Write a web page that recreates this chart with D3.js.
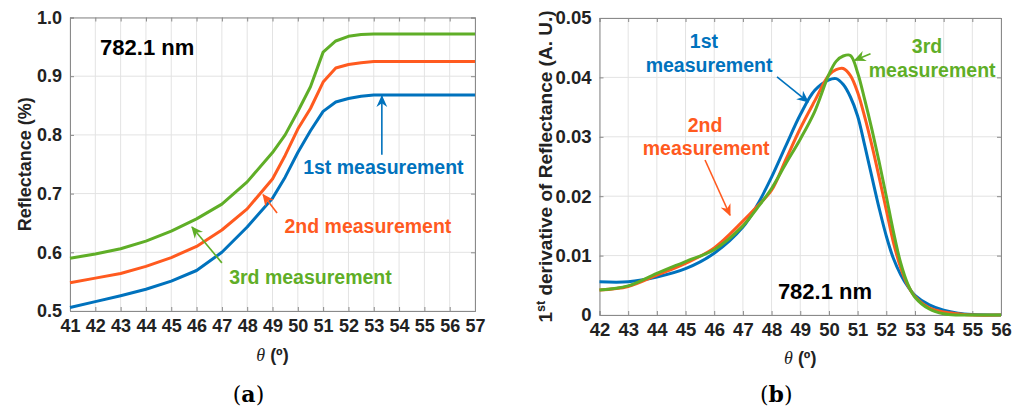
<!DOCTYPE html>
<html>
<head>
<meta charset="utf-8">
<script src="https://cdn.jsdelivr.net/npm/d3@7"></script>
<style>
  body { margin: 0; background: #fff; }
  svg { display: block; }
</style>
</head>
<body>
<div id="chart"></div>
<script>
// panel (a): reflectance vs angle
const angA = [41, 42, 43, 44, 45, 46, 47, 48, 49, 49.5, 50, 50.5, 51, 51.5, 52, 52.5, 53, 54, 55, 56, 57];
const refl1 = [0.506, 0.516, 0.526, 0.537, 0.551, 0.569, 0.600, 0.643, 0.692, 0.728, 0.770, 0.807, 0.840, 0.856, 0.862, 0.866, 0.868, 0.868, 0.868, 0.868, 0.868];
const refl2 = [0.548, 0.556, 0.564, 0.576, 0.591, 0.610, 0.638, 0.674, 0.725, 0.765, 0.810, 0.845, 0.890, 0.914, 0.920, 0.923, 0.925, 0.925, 0.925, 0.925, 0.925];
const refl3 = [0.590, 0.597, 0.606, 0.619, 0.636, 0.657, 0.682, 0.720, 0.770, 0.800, 0.840, 0.882, 0.941, 0.960, 0.968, 0.971, 0.972, 0.972, 0.972, 0.972, 0.972];
const ticksA_x = d3.range(41, 58);
const ticksA_y = [0.5, 0.6, 0.7, 0.8, 0.9, 1.0];

// panel (b): first derivative
const angB = [42, 43, 44, 45, 46, 47, 47.5, 48, 48.5, 49, 49.5, 50, 50.25, 50.5, 50.75, 51, 51.25, 51.5, 51.75, 52, 52.25, 52.5, 52.75, 53, 53.5, 54, 54.5, 55, 56];
const der1 = [0.0056, 0.0056, 0.0064, 0.0078, 0.0104, 0.0148, 0.0185, 0.0232, 0.0285, 0.0337, 0.0378, 0.0396, 0.0398, 0.0388, 0.0367, 0.0335, 0.0285, 0.0232, 0.0180, 0.0133, 0.0095, 0.0068, 0.0048, 0.0033, 0.0017, 0.0008, 0.0003, 0.0001, 0];
const der2 = [0.0042, 0.0048, 0.0067, 0.0087, 0.0113, 0.0158, 0.0183, 0.0210, 0.0262, 0.0314, 0.0360, 0.0404, 0.0413, 0.0415, 0.0403, 0.0375, 0.0333, 0.0285, 0.0232, 0.0177, 0.0122, 0.0080, 0.0050, 0.0031, 0.0012, 0.0005, 0.0002, 0, 0];
const der3 = [0.0042, 0.0049, 0.0070, 0.0090, 0.0110, 0.0150, 0.0180, 0.0213, 0.0255, 0.0296, 0.0342, 0.0405, 0.0427, 0.0436, 0.0437, 0.0408, 0.0362, 0.0312, 0.0258, 0.0200, 0.0140, 0.0088, 0.0052, 0.0030, 0.0010, 0.0002, 0, 0, 0];
const ticksB_x = d3.range(42, 57);
const ticksB_y = [0, 0.01, 0.02, 0.03, 0.04, 0.05];

const colors = ["#0072BD", "#FF5A1F", "#5FAE27"];
const sans = "'Liberation Sans', Arial, sans-serif";

const W = 1021, H = 407;
const svg = d3.select("#chart").append("svg").attr("width", W).attr("height", H);
svg.append("rect").attr("width", W).attr("height", H).attr("fill", "#fff");

const defs = svg.append("defs");
colors.forEach((c, i) => {
    defs.append("marker")
        .attr("id", "head" + i)
        .attr("viewBox", "0 0 10 10")
        .attr("refX", 9).attr("refY", 5)
        .attr("markerWidth", 7.5).attr("markerHeight", 7.5)
        .attr("markerUnits", "strokeWidth")
        .attr("orient", "auto")
        .append("path")
        .attr("d", "M0,0.5 L10,5 L0,9.5 L3,5 Z")
        .attr("fill", c);
});

function drawPanel(o) {
    const x = d3.scaleLinear().domain(o.xDomain).range([o.left, o.right]);
    const y = d3.scaleLinear().domain(o.yDomain).range([o.bottom, o.top]);
    const g = svg.append("g");

    // grid
    g.selectAll(".gx").data(o.xTicks).join("line")
        .attr("x1", d => x(d)).attr("x2", d => x(d))
        .attr("y1", o.top).attr("y2", o.bottom)
        .attr("stroke", "#e3e3e3").attr("stroke-width", 1);
    g.selectAll(".gy").data(o.yTicks).join("line")
        .attr("x1", o.left).attr("x2", o.right)
        .attr("y1", d => y(d)).attr("y2", d => y(d))
        .attr("stroke", "#e3e3e3").attr("stroke-width", 1);

    // axes (matlab box, ticks inside)
    const bottomAxis = d3.axisBottom(x).tickValues(o.xTicks).tickSize(-4).tickFormat(d3.format("d")).tickPadding(8);
    const leftAxis = d3.axisLeft(y).tickValues(o.yTicks).tickSize(-4).tickFormat(o.yFmt).tickPadding(8);
    const topAxis = d3.axisTop(x).tickValues(o.xTicks).tickSize(-4).tickFormat("");
    const rightAxis = d3.axisRight(y).tickValues(o.yTicks).tickSize(-4).tickFormat("");

    const ax = [
        g.append("g").attr("transform", `translate(0,${o.bottom})`).call(bottomAxis),
        g.append("g").attr("transform", `translate(${o.left},0)`).call(leftAxis),
        g.append("g").attr("transform", `translate(0,${o.top})`).call(topAxis),
        g.append("g").attr("transform", `translate(${o.right},0)`).call(rightAxis)
    ];
    ax.forEach(a => {
        a.attr("font-size", null).attr("font-family", null);
        a.select(".domain").attr("stroke", "#8a8a8a");
        a.selectAll(".tick line").attr("stroke", "#8a8a8a");
        a.selectAll(".tick text")
            .style("font-family", sans).style("font-weight", "bold")
            .style("font-size", o.tickSize + "px").style("fill", "#222");
    });

    // curves
    const line = d3.line().x(d => x(d[0])).y(d => y(d[1])).curve(o.curve);
    o.series.forEach((s, i) => {
        g.append("path")
            .datum(o.xs.map((v, j) => [v, s[j]]))
            .attr("d", line)
            .attr("fill", "none")
            .attr("stroke", colors[i])
            .attr("stroke-width", 3)
            .attr("stroke-linejoin", "round");
    });

    // arrows
    o.arrows.forEach(a => {
        g.append("line")
            .attr("x1", x(a.from[0])).attr("y1", y(a.from[1]))
            .attr("x2", x(a.to[0])).attr("y2", y(a.to[1]))
            .attr("stroke", colors[a.c]).attr("stroke-width", 1.6)
            .attr("marker-end", `url(#head${a.c})`);
    });

    // annotation texts
    o.labels.forEach(l => {
        g.append("text")
            .attr("x", x(l.at[0])).attr("y", y(l.at[1]))
            .attr("text-anchor", l.anchor || "middle")
            .style("font-family", sans).style("font-weight", "bold")
            .style("font-size", l.size + "px")
            .attr("fill", l.c === undefined ? "#000" : colors[l.c])
            .text(l.text);
    });

    // x label: theta (º)
    const xl = g.append("text")
        .attr("x", (o.left + o.right) / 2).attr("y", o.xLabelY)
        .attr("text-anchor", "middle")
        .style("font-size", "18px").attr("fill", "#222");
    xl.append("tspan").style("font-family", "'Liberation Serif', 'Times New Roman', serif").style("font-style", "italic").text("θ");
    xl.append("tspan").style("font-family", sans).style("font-weight", "bold").text(" (º)");

    // panel letter
    const pl = g.append("text")
        .attr("x", (o.left + o.right) / 2 - 24).attr("y", 402)
        .attr("text-anchor", "middle")
        .style("font-family", "'DejaVu Serif', 'Liberation Serif', serif")
        .style("font-size", "22px").attr("fill", "#000");
    pl.append("tspan").text("(");
    pl.append("tspan").style("font-weight", "bold").text(o.letter);
    pl.append("tspan").text(")");
    return { x, y, g };
}

// ---- panel (a)
drawPanel({
    left: 70, right: 475, top: 17.5, bottom: 311,
    xDomain: [41, 57], yDomain: [0.5, 1.0],
    xTicks: ticksA_x, yTicks: ticksA_y, yFmt: d3.format(".1f"),
    tickSize: 18, xLabelY: 361, letter: "a",
    xs: angA, series: [refl1, refl2, refl3], curve: d3.curveLinear,
    arrows: [
        { c: 0, from: [53.32, 0.766], to: [53.32, 0.866] },
        { c: 1, from: [49.18, 0.667], to: [48.63, 0.698] },
        { c: 2, from: [47.0, 0.582], to: [45.82, 0.643] }
    ],
    labels: [
        { text: "782.1 nm", at: [42.19, 0.936], anchor: "start", size: 22 },
        { text: "1st measurement", at: [53.38, 0.733], size: 19.5, c: 0 },
        { text: "2nd measurement", at: [52.77, 0.633], size: 19.5, c: 1 },
        { text: "3rd measurement", at: [50.5, 0.546], size: 19.5, c: 2 }
    ]
});
svg.append("text")
    .attr("transform", `translate(31,${(17.5 + 311) / 2}) rotate(-90)`)
    .attr("text-anchor", "middle")
    .style("font-family", sans).style("font-weight", "bold").style("font-size", "18px")
    .attr("fill", "#222")
    .text("Reflectance (%)");

// ---- panel (b)
drawPanel({
    left: 599.5, right: 1001, top: 18, bottom: 315,
    xDomain: [42, 56], yDomain: [0, 0.05],
    xTicks: ticksB_x, yTicks: ticksB_y, yFmt: d => d === 0 ? "0" : d3.format(".2f")(d),
    tickSize: 18.5, xLabelY: 364, letter: "b",
    xs: angB, series: [der1, der2, der3], curve: d3.curveCatmullRom.alpha(0.5),
    arrows: [
        { c: 0, from: [48.19, 0.0401], to: [49.27, 0.0359] },
        { c: 1, from: [45.68, 0.0261], to: [46.55, 0.0168] },
        { c: 2, from: [51.45, 0.0440], to: [50.9, 0.0429] }
    ],
    labels: [
        { text: "782.1 nm", at: [48.22, 0.0027], anchor: "start", size: 22 },
        { text: "1st", at: [45.64, 0.0450], size: 19.5, c: 0 },
        { text: "measurement", at: [45.82, 0.0409], size: 19.5, c: 0 },
        { text: "2nd", at: [45.68, 0.0308], size: 19.5, c: 1 },
        { text: "measurement", at: [45.72, 0.0269], size: 19.5, c: 1 },
        { text: "3rd", at: [53.42, 0.0441], size: 19.5, c: 2 },
        { text: "measurement", at: [53.6, 0.0401], size: 19.5, c: 2 }
    ]
});
const yl = svg.append("text")
    .attr("transform", `translate(552,${(18 + 315) / 2}) rotate(-90)`)
    .attr("text-anchor", "middle")
    .style("font-family", sans).style("font-weight", "bold").style("font-size", "19px")
    .attr("fill", "#222");
yl.append("tspan").text("1");
yl.append("tspan").style("font-size", "12.5px").attr("dy", -7).text("st");
yl.append("tspan").attr("dy", 7).text(" derivative of Reflectance (A. U.)");
</script>
</body>
</html>
